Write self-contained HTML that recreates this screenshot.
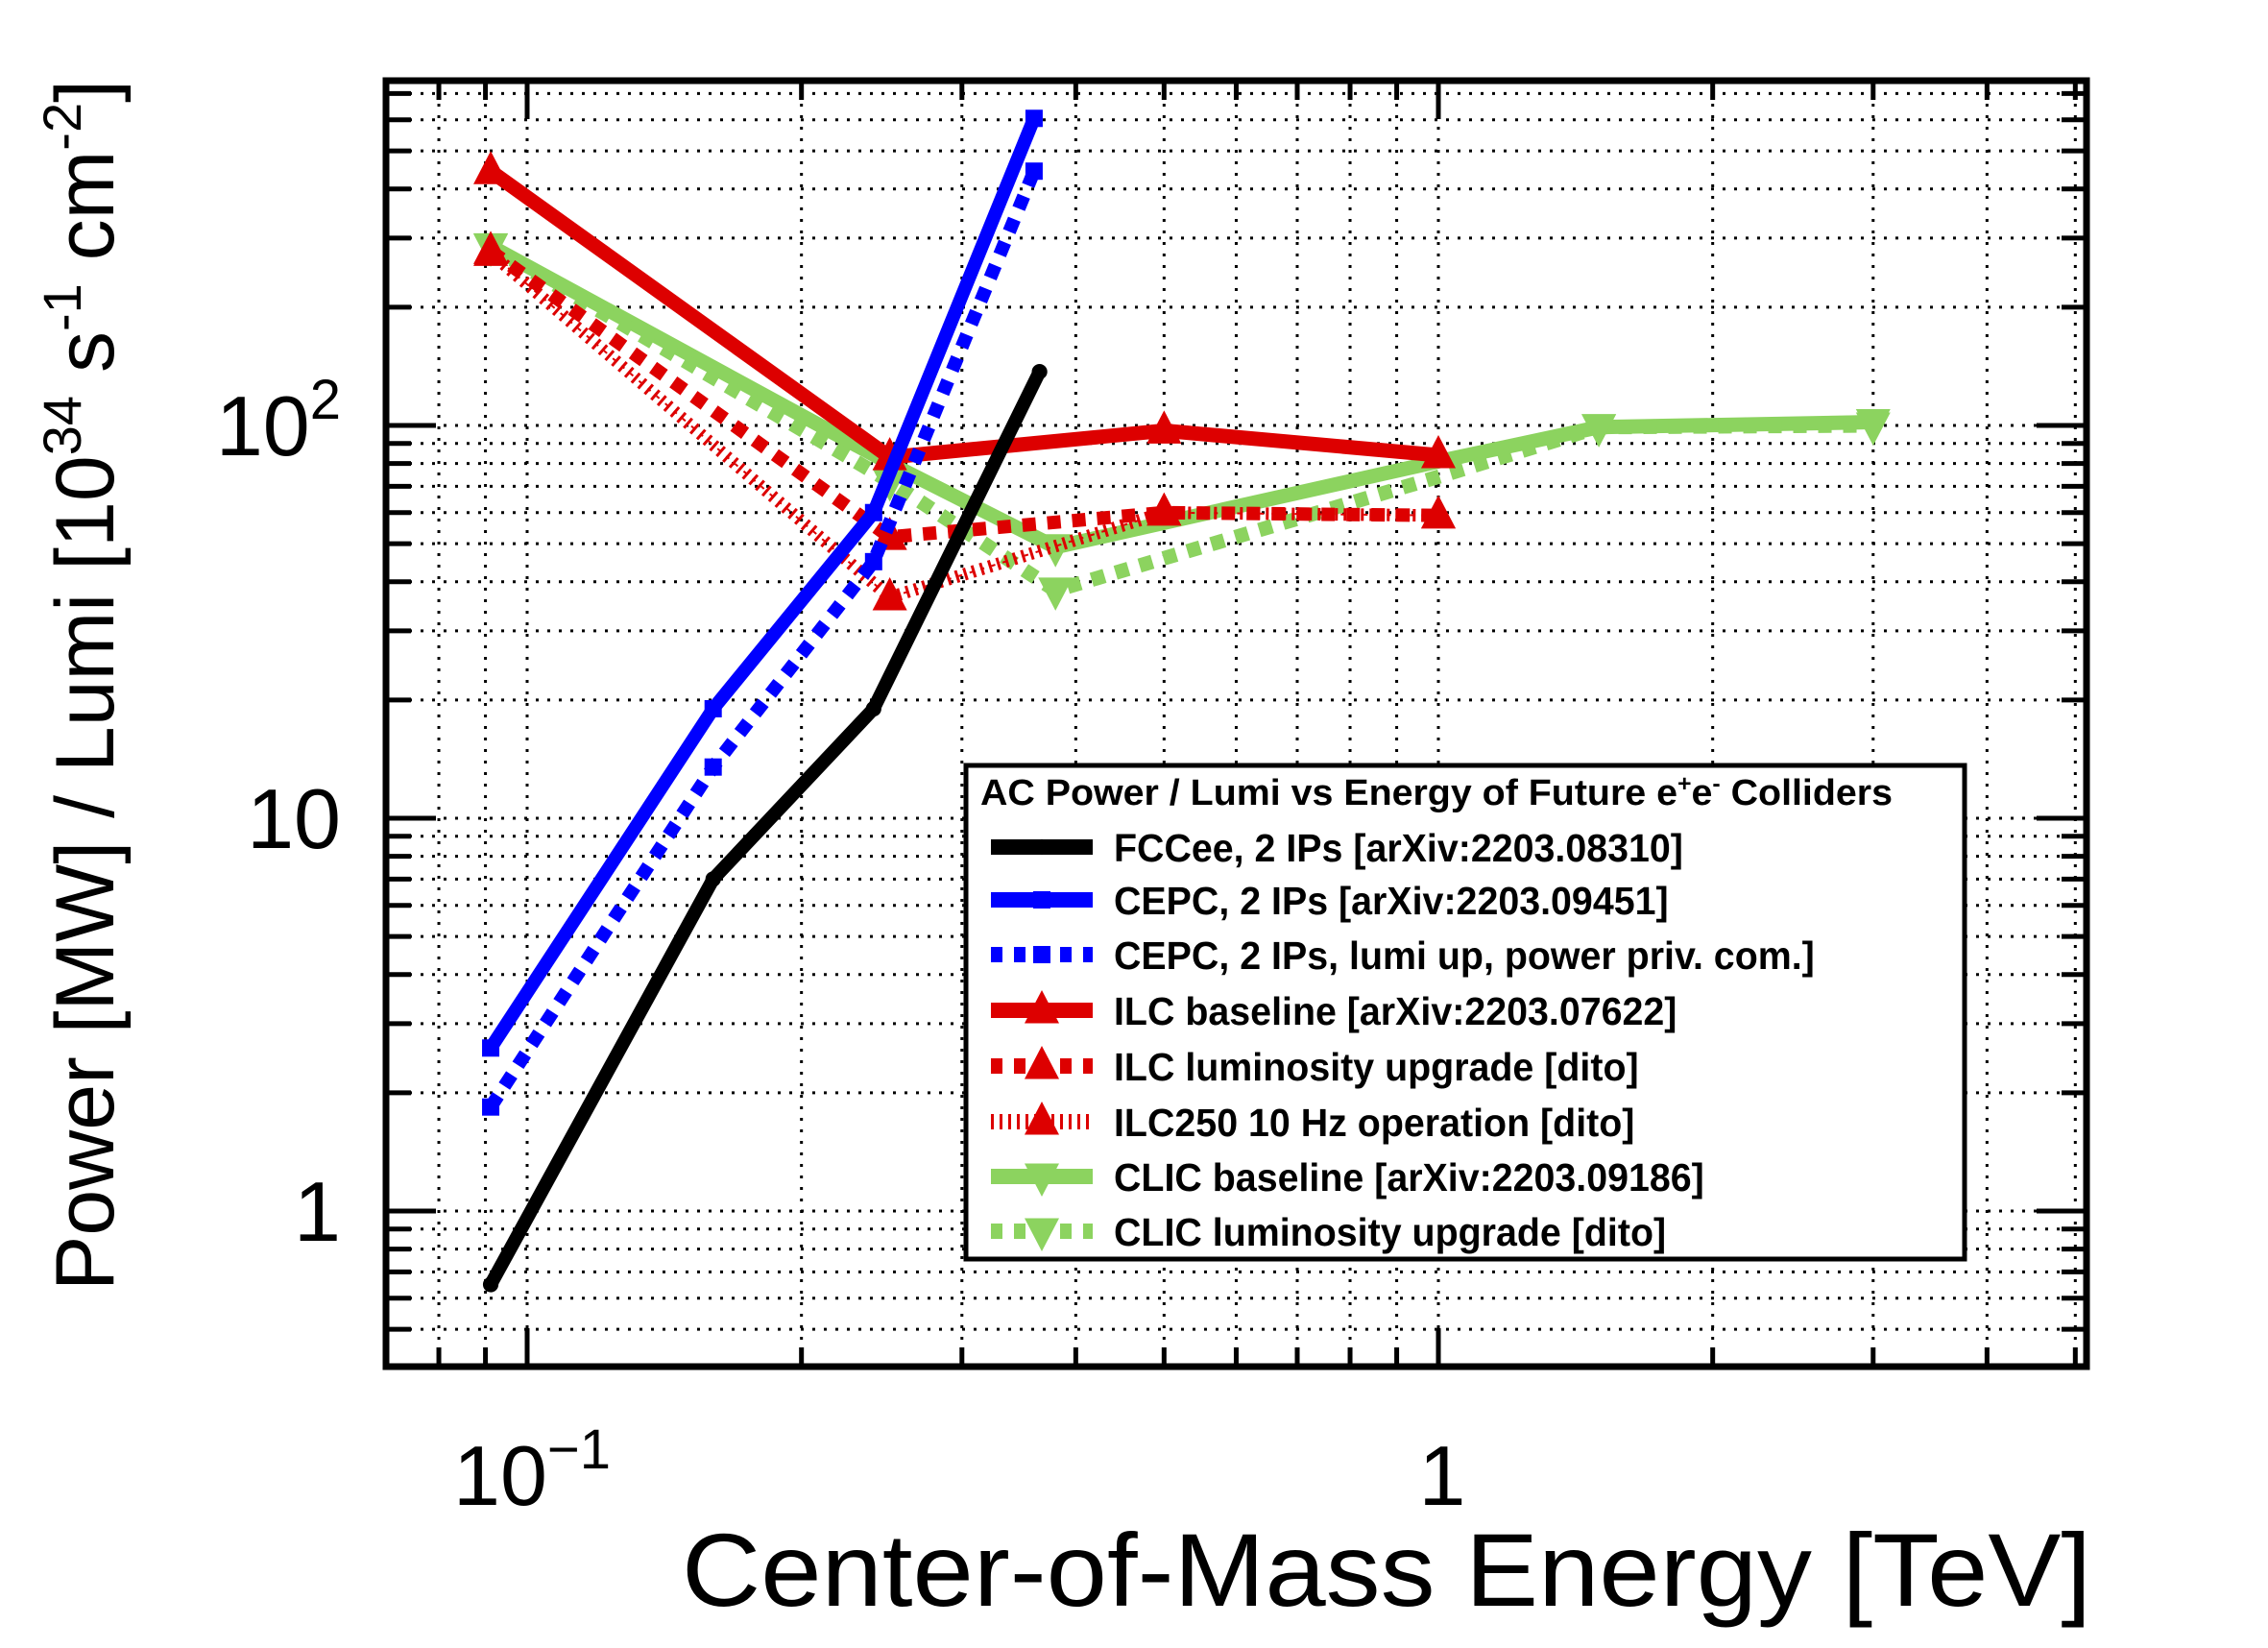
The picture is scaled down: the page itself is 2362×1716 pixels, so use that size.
<!DOCTYPE html>
<html><head><meta charset="utf-8"><style>
html,body{margin:0;padding:0;background:#fff}
svg{display:block}
text{font-family:"Liberation Sans",sans-serif}
</style></head><body>
<svg id="chart" width="2362" height="1716" viewBox="0 0 2362 1716" xmlns="http://www.w3.org/2000/svg">
<rect width="2362" height="1716" fill="#fff"/>
<g id="grid"></g>
<g id="series"></g>
<rect x="402" y="84" width="1771" height="1339" fill="none" stroke="#000" stroke-width="7"/>
<g id="ticks"></g>
<g font-size="88" text-anchor="end">
<text x="355" y="1292">1</text>
<text x="355" y="883">10</text>
<text x="355" y="474">10<tspan font-size="58" dy="-38">2</tspan></text>
</g>
<g font-size="88">
<text x="472" y="1567">10<tspan font-size="58" dy="-38">−1</tspan></text>
<text x="1502" y="1567" text-anchor="middle">1</text>
</g>
<text x="2178" y="1672" font-size="108" text-anchor="end" textLength="1468" lengthAdjust="spacingAndGlyphs">Center-of-Mass Energy [TeV]</text>
<text transform="translate(118,83) rotate(-90)" font-size="86" text-anchor="end">Power [MW] / Lumi [10<tspan font-size="56" dy="-34">34</tspan><tspan dy="34"> s</tspan><tspan font-size="56" dy="-34">-1</tspan><tspan dy="34"> cm</tspan><tspan font-size="56" dy="-34">-2</tspan><tspan dy="34">]</tspan></text>
<g>
<rect x="1006" y="797" width="1040" height="514" fill="#fff" stroke="#000" stroke-width="5"/>
<text x="1021" y="838" font-size="38" font-weight="bold" textLength="950" lengthAdjust="spacingAndGlyphs">AC Power / Lumi vs Energy of Future e<tspan font-size="24" dy="-14">+</tspan><tspan dy="14">e</tspan><tspan font-size="24" dy="-14">-</tspan><tspan dy="14"> Colliders</tspan></text>
<g id="legend-entries"></g>
</g>
</svg>
<script>
const energiesFCC = [0.0912, 0.16, 0.24, 0.365];
const valuesFCC = [0.65, 7.0, 19, 137];
const energiesCEPC = [0.0912, 0.16, 0.24, 0.36];
const valuesCEPC = [2.6, 19, 60, 605];
const valuesCEPCup = [1.84, 13.5, 45, 444];
const energiesILC = [0.0912, 0.25, 0.5, 1.0];
const valuesILC = [444, 83, 97, 84];
const valuesILCup = [278, 52, 60, 59];
const valuesILC10 = [275, 36.5, 60, 59];
const energiesCLIC = [0.0912, 0.25, 0.38, 1.0, 1.5, 3.0];
const valuesCLIC = [286, 80, 49, 81, 99, 102];
const valuesCLICup = [285, 72, 38, 74, 99, 100];
const legendLabels = ["FCCee, 2 IPs [arXiv:2203.08310]","CEPC, 2 IPs [arXiv:2203.09451]","CEPC, 2 IPs, lumi up, power priv. com.]","ILC baseline [arXiv:2203.07622]","ILC luminosity upgrade [dito]","ILC250 10 Hz operation [dito]","CLIC baseline [arXiv:2203.09186]","CLIC luminosity upgrade [dito]"];
const xGrid = [0.08,0.09,0.1,0.2,0.3,0.4,0.5,0.6,0.7,0.8,0.9,1,2,3,4,5];
const yGrid = [0.5,0.6,0.7,0.8,0.9,1,2,3,4,5,6,7,8,9,10,20,30,40,50,60,70,80,90,100,200,300,400,500,600,700];

const NS="http://www.w3.org/2000/svg";
const X=v=>549+949*Math.log10(v/0.1);
const Y=v=>1261-409*Math.log10(v);
const L=402,R=2173,T=84,B=1423;
function mk(tag,attrs,parent){const e=document.createElementNS(NS,tag);for(const k in attrs)e.setAttribute(k,attrs[k]);parent.appendChild(e);return e;}
const grid=document.getElementById('grid'),ticks=document.getElementById('ticks'),ser=document.getElementById('series');
xGrid.forEach(v=>{
  const x=X(v);
  const g=mk('line',{x1:x,x2:x,y1:T,y2:B,stroke:'#000','stroke-width':3,'stroke-dasharray':'3 9'},grid);
  
  
  const major=(v===0.1||v===1);
  const len=major?40:20;
  const t1=mk('line',{x1:x,x2:x,y1:B,y2:B-len,stroke:'#000','stroke-width':5},ticks);
  
  
  const t2=mk('line',{x1:x,x2:x,y1:T,y2:T+len,stroke:'#000','stroke-width':5},ticks);
  
  
});
yGrid.forEach(v=>{
  const y=Y(v);
  const g=mk('line',{x1:L,x2:R,y1:y,y2:y,stroke:'#000','stroke-width':3,'stroke-dasharray':'3 9'},grid);
  
  
  const major=(v===1||v===10||v===100);
  const len=major?52:26;
  const t1=mk('line',{x1:L,x2:L+len,y1:y,y2:y,stroke:'#000','stroke-width':5},ticks);
  
  
  const t2=mk('line',{x1:R,x2:R-len,y1:y,y2:y,stroke:'#000','stroke-width':5},ticks);
  
  
});
function marker(kind,x,y,color,parent,s){
  let e;
  if(kind==='circle') e=mk('circle',{cx:x,cy:y,r:s*0.45,fill:color},parent);
  else if(kind==='square') e=mk('rect',{x:x-s/2,y:y-s/2,width:s,height:s,fill:color},parent);
  else if(kind==='tri') e=mk('polygon',{points:`${x},${y-s*0.7} ${x-s*0.6},${y+s*0.45} ${x+s*0.6},${y+s*0.45}`,fill:color},parent);
  else e=mk('polygon',{points:`${x},${y+s*0.7} ${x-s*0.6},${y-s*0.45} ${x+s*0.6},${y-s*0.45}`,fill:color},parent);
  return e;
}
const GREEN='#8cd35f',RED='#dd0000',BLUE='#0000ff';
const seriesDefs=[
 {name:'fccee',xs:energiesFCC,ys:valuesFCC,color:'#000',w:14,dash:null,m:'circle',ms:18},
 {name:'cepc',xs:energiesCEPC,ys:valuesCEPC,color:BLUE,w:14,dash:null,m:'square',ms:18},
 {name:'cepc-lumi-up',xs:energiesCEPC,ys:valuesCEPCup,color:BLUE,w:14,dash:'14 12',m:'square',ms:18},
 {name:'ilc-baseline',xs:energiesILC,ys:valuesILC,color:RED,w:15,dash:null,m:'tri',ms:30},
 {name:'ilc-lumi-upgrade',xs:energiesILC,ys:valuesILCup,color:RED,w:14,dash:'14 12',m:'tri',ms:30},
 {name:'ilc250-10hz',xs:energiesILC,ys:valuesILC10,color:RED,w:12,dash:'4 8',m:'tri',ms:30,thin:true},
 {name:'clic-baseline',xs:energiesCLIC,ys:valuesCLIC,color:GREEN,w:15,dash:null,m:'inv',ms:30,skip:[3]},
 {name:'clic-lumi-upgrade',xs:energiesCLIC,ys:valuesCLICup,color:GREEN,w:15,dash:'14 12',m:'inv',ms:30,skip:[3]}
];
const drawOrder=[6,7,3,4,5,0,1,2];
drawOrder.forEach(i=>{
  const s=seriesDefs[i];
  const g=mk('g',{},ser);
  
  
  const pts=s.xs.map((x,j)=>X(x)+','+Y(s.ys[j])).join(' ');
  const attrs={points:pts,fill:'none',stroke:s.color,'stroke-width':s.w,'stroke-linejoin':'miter'};
  if(s.dash)attrs['stroke-dasharray']=s.dash;
  const pl=mk('polyline',attrs,g);
  
  
  if(s.thin){
    pl.setAttribute('stroke-width',2);
    const pl2=mk('polyline',{points:pts,fill:'none',stroke:s.color,'stroke-width':13,'stroke-dasharray':'3 6'},g);
    
    
  }
  s.xs.forEach((x,j)=>{
    if(s.skip&&s.skip.includes(j))return;
    const m=marker(s.m,X(x),Y(s.ys[j]),s.color,g,s.ms);
    
    
  });
});
const le=document.getElementById('legend-entries');
const rowsY=[882,937,994,1052,1110,1168,1225,1282];
legendLabels.forEach((lab,i)=>{
  const s=seriesDefs[i];
  const y=rowsY[i];
  const g=mk('g',{},le);
  
  
  const a={x1:1032,x2:1138,y1:y,y2:y,stroke:s.color,'stroke-width':16};
  if(s.dash)a['stroke-dasharray']=s.thin?'3 6':'12 12';
  const ln=mk('line',a,g);
  
  
  const m=marker(s.m,1085,y,s.color,g,s.ms);
  
  
  const t=mk('text',{x:1160,y:y+15,'font-size':41,'font-weight':'bold'},g);
  t.textContent=lab;
  const w=t.getComputedTextLength();
  t.setAttribute('textLength',(w*0.96).toFixed(1));
  t.setAttribute('lengthAdjust','spacingAndGlyphs');
  
  
});
</script>
</body></html>
